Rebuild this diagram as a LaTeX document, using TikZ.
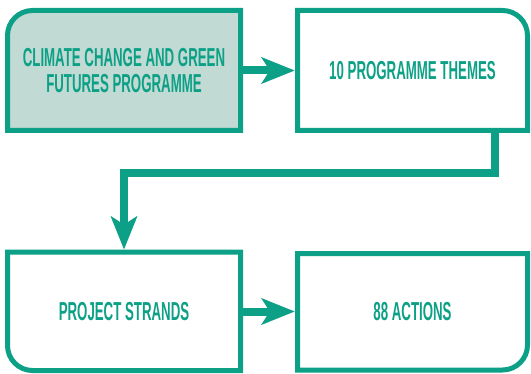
\documentclass[tikz,border=0pt]{standalone}
\usepackage{fontspec}
\usetikzlibrary{arrows.meta}
% Condensed bold sans for the box labels
\newfontfamily\labelfont[FakeStretch=0.51]{Liberation Sans}
\definecolor{teal}{RGB}{12,160,134}
\definecolor{mint}{RGB}{193,218,211}
\begin{document}
\begin{tikzpicture}[x=1pt,y=1pt,
  label/.style={inner sep=0pt, text=teal, align=center,
    font=\labelfont\bfseries\fontsize{26}{26}\selectfont},
  frame/.style={draw=teal, line width=5pt, line join=miter},
  conn/.style={draw=teal, line width=8pt, line join=miter,
    -{Stealth[length=33pt, width=26pt, inset=8pt]}, shorten >=2.5pt}]
\useasboundingbox (0,0) rectangle (531,373);

% box outlines (centre lines of the borders)
\coordinate (b1sw) at (7.5,242.5);   \coordinate (b1ne) at (240.5,362.5);
\coordinate (b2sw) at (297.5,242.5); \coordinate (b2ne) at (527.5,362.5);
\coordinate (b3sw) at (7.5,2.5);     \coordinate (b3ne) at (240.5,121);
\coordinate (b4sw) at (297.5,3);     \coordinate (b4ne) at (527.5,119.5);

% top-left box: filled, rounded top-left corner
\path[fill=mint] (b1sw) -- (b1sw |- 0,337.5) arc[start angle=180, end angle=90, radius=25pt]
  -- (b1ne) -- (b1ne |- b1sw) -- cycle;
\draw[frame] (b1sw) -- (b1sw |- 0,337.5) arc[start angle=180, end angle=90, radius=25pt]
  -- (b1ne) -- (b1ne |- b1sw) -- cycle;
% top-right box: rounded top-right corner
\draw[frame] (b2sw) -- (b2sw |- b2ne) -- ([xshift=-25pt]b2ne)
  arc[start angle=90, end angle=0, radius=25pt] -- (b2ne |- b2sw) -- cycle;
% bottom-left box: rounded bottom-left corner
\draw[frame] (b3ne) -- (b3sw |- b3ne) -- ([yshift=25pt]b3sw)
  arc[start angle=180, end angle=270, radius=25pt] -- (b3ne |- b3sw) -- cycle;
% bottom-right box: rounded bottom-right corner
\draw[frame] (b4sw) -- (b4sw |- b4ne) -- (b4ne) -- ([yshift=25pt]b4ne |- b4sw)
  arc[start angle=0, end angle=-90, radius=25pt] -- cycle;

% labelled nodes spanning each box
\node[label, minimum width=233pt, minimum height=120pt] (b1) at (124,302.5)
  {CLIMATE CHANGE AND GREEN\\FUTURES PROGRAMME};
\node[label, minimum width=230pt, minimum height=120pt] (b2) at (412.5,302.5)
  {10 PROGRAMME THEMES};
\node[label, minimum width=233pt, minimum height=118.5pt] (b3) at (124,61.5)
  {PROJECT STRANDS};
\node[label, minimum width=230pt, minimum height=116.5pt] (b4) at (412.5,61.5)
  {88 ACTIONS};

% connectors
\coordinate (e1) at (495,200);
\coordinate (e2) at (124,200);
\draw[conn] (b1.east) -- (b2.west);
\draw[conn] (b2.south -| e1) -- (e1) -- (e2) -- (b3.north);
\draw[conn] (b3.east) -- (b4.west);
\end{tikzpicture}
\end{document}
